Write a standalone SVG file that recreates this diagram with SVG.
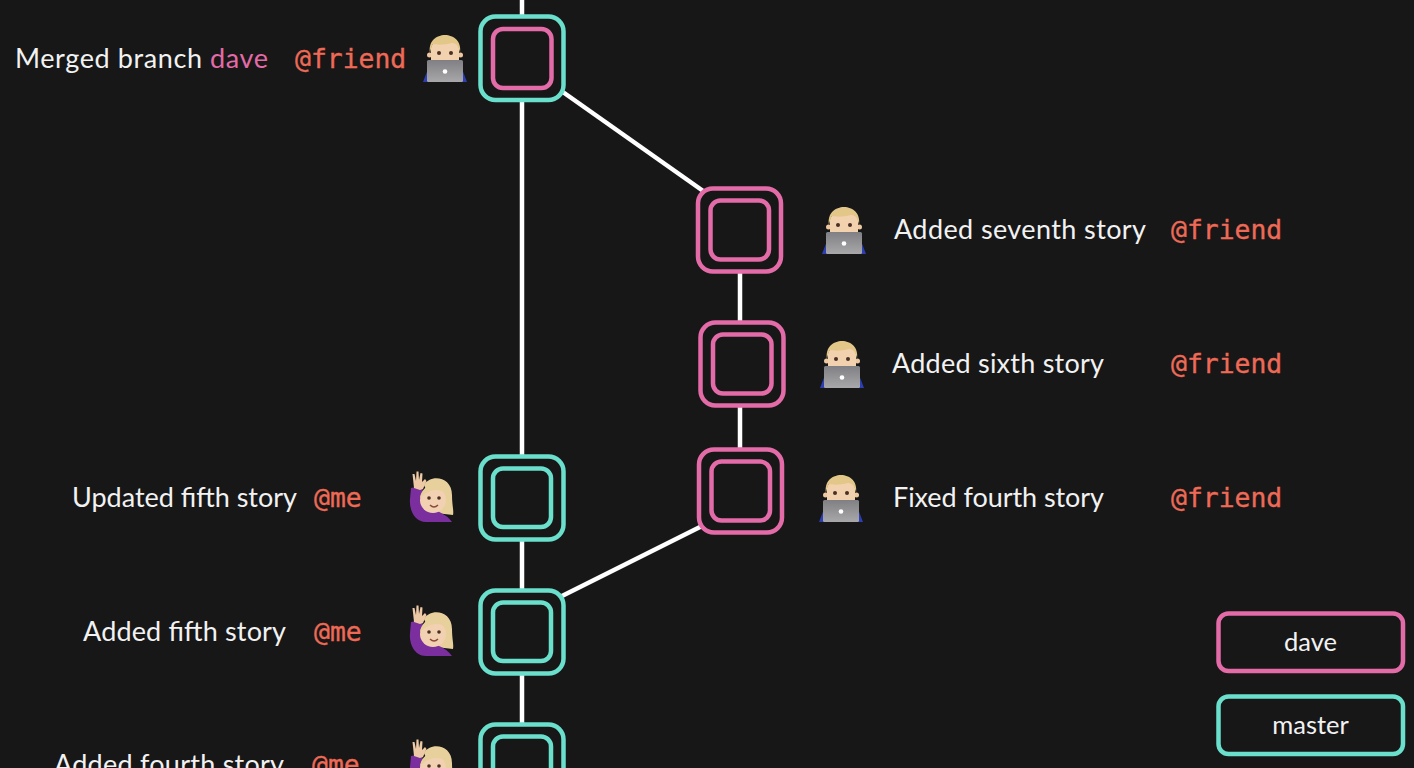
<svg xmlns="http://www.w3.org/2000/svg" width="1414" height="768" viewBox="0 0 1414 768">
<style>
.bg{fill:#171718}
.edge{stroke:#fff;stroke-width:4.5;fill:none}
.o{fill:#171718;stroke-width:4.5}
.t{stroke:#6adfcb}
.p{stroke:#e36ba7}
.lab{font-family:"Lato","Liberation Sans",sans-serif;font-size:27px;fill:#f2f2f2}
.au{font-family:"DejaVu Sans Mono","Liberation Mono",monospace;font-size:26.4px;fill:#ee6a56;stroke:#ee6a56;stroke-width:.35}
.leg{font-family:"Lato","Liberation Sans",sans-serif;font-size:25.5px;fill:#f2f2f2;text-anchor:middle}
</style>
<defs>
<linearGradient id="lap" x1="0" y1="0" x2="0" y2="1"><stop offset="0" stop-color="#808084"/><stop offset="1" stop-color="#a8a8aa"/></linearGradient>
<g id="man">
<path d="M-22 24 L-17 11 L17 11 L22 24Z" fill="#2d3fb0"/>
<circle cx="-15.500" cy="-3" r="2.500" fill="#edc8a0"/><circle cx="15.500" cy="-3" r="2.500" fill="#edc8a0"/>
<path d="M-14 -10 C-14 -20 14 -20 14 -10 L14 6 L-14 6Z" fill="#f2d2ae"/>
<path d="M-15 -5 C-19 -29 19 -29 15 -5 C14 -11 12 -15 7 -15 C0 -13 -8 -13 -12 -14 C-14 -11 -14 -9 -15 -5Z" fill="#e2c788"/>
<circle cx="-6" cy="-5" r="2" fill="#4a3024"/><circle cx="6" cy="-5" r="2" fill="#4a3024"/>
<rect x="-18" y="2" width="36" height="22" rx="1.500" fill="url(#lap)"/>
<circle cx="0" cy="13.500" r="2.300" fill="#fff"/>
</g>
<g id="woman">
<path d="M-8 -12 C-2 -23 20 -21 20 -2 C20 8 22 14 21 18 L4 16Z" fill="#e8d09c"/>
<path d="M-21 -9 L-10 -11 L-7 9 C2 13 14 16 20 25 L-6 25 C-18 25 -23 12 -22 2Z" fill="#7b2f9e"/>
<path d="M-18 -9 L-19.500 -23 L-17.500 -23 L-16 -16 L-15.500 -25.500 L-13.500 -25.500 L-13 -17 L-11.500 -24 L-9.500 -23.500 L-10 -15 L-7 -18 L-5.500 -16 L-9 -8 L-12 -7Z" fill="#edc9a6"/>
<circle cx="1" cy="3" r="13" fill="#f2d0b2"/>
<path d="M-12 1 C-10 -14 8 -17 15 -3 C8 -9 -2 -9 -12 1Z" fill="#e8d09c"/>
<circle cx="-3" cy="1" r="1.800" fill="#4a3024"/><circle cx="7" cy="1" r="1.800" fill="#4a3024"/>
<path d="M-2 8 Q2 12 6 8" stroke="#8a4a3a" stroke-width="1.400" fill="none"/>
</g>
</defs>
<rect class="bg" width="1414" height="768"/>
<g id="connectors">
<path class="edge" d="M522 0V768"/>
<path class="edge" d="M560 90L706 193"/>
<path class="edge" d="M740 268V452"/>
<path class="edge" d="M704 525L560 597"/>
</g>
<g id="n-merge"><rect class="o t" x="480.500" y="16.500" width="83" height="83.500" rx="15"/><rect class="o p" x="493" y="29" width="58.500" height="59" rx="10"/><use href="#man" x="445" y="58"/><text class="lab" y="68"><tspan x="15" textLength="187">Merged branch</tspan><tspan x="210" textLength="58" fill="#e36ba7">dave</tspan></text><text class="au" x="295" y="68">@friend</text></g>
<g id="n-seventh"><rect class="o p" x="698" y="188.500" width="83" height="83" rx="15"/><rect class="o p" x="710.500" y="200.500" width="58.500" height="59" rx="10"/><use href="#man" x="844" y="230"/><text class="lab" x="894" y="239" textLength="252">Added seventh story</text><text class="au" x="1171" y="239">@friend</text></g>
<g id="n-sixth"><rect class="o p" x="700.500" y="322.500" width="83" height="83" rx="15"/><rect class="o p" x="713" y="334.500" width="58.500" height="59" rx="10"/><use href="#man" x="842" y="364"/><text class="lab" x="892" y="373" textLength="212">Added sixth story</text><text class="au" x="1171" y="373">@friend</text></g>
<g id="n-fourth-fix"><rect class="o p" x="699" y="449.500" width="83" height="83" rx="15"/><rect class="o p" x="711.500" y="461.500" width="58.500" height="59" rx="10"/><use href="#man" x="841" y="498"/><text class="lab" x="893" y="507" textLength="211">Fixed fourth story</text><text class="au" x="1171" y="507">@friend</text></g>
<g id="n-fifth-upd"><rect class="o t" x="480.500" y="456.500" width="83" height="83" rx="15"/><rect class="o t" x="493" y="468.500" width="58" height="58.500" rx="10"/><use href="#woman" x="432" y="497"/><text class="lab" x="72" y="507" textLength="225">Updated fifth story</text><text class="au" x="314" y="507">@me</text></g>
<g id="n-fifth"><rect class="o t" x="480.500" y="590.500" width="83" height="83" rx="15"/><rect class="o t" x="493" y="602.500" width="58" height="58.500" rx="10"/><use href="#woman" x="432" y="631"/><text class="lab" x="83" y="641" textLength="203">Added fifth story</text><text class="au" x="314" y="641">@me</text></g>
<g id="n-fourth"><rect class="o t" x="480.500" y="724.500" width="83" height="83" rx="15"/><rect class="o t" x="493" y="736.500" width="58" height="58.500" rx="10"/><use href="#woman" x="432" y="765"/><text class="lab" x="54" y="774" textLength="230">Added fourth story</text><text class="au" x="312" y="774">@me</text></g>
<g id="legend-dave"><rect class="o p" x="1218.500" y="613.500" width="184.500" height="57.500" rx="10"/><text class="leg" x="1310.500" y="650.500">dave</text></g>
<g id="legend-master"><rect class="o t" x="1218.500" y="696.500" width="184.500" height="57.500" rx="10"/><text class="leg" x="1310.500" y="734">master</text></g>
</svg>
